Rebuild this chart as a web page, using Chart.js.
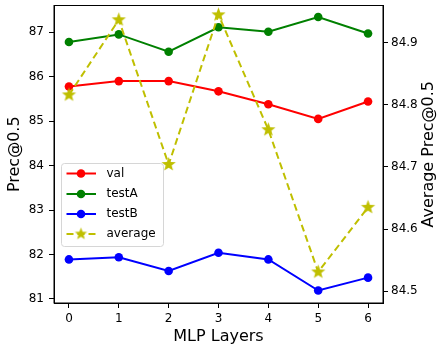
<!DOCTYPE html>
<html>
<head>
<meta charset="utf-8">
<script src="https://cdn.jsdelivr.net/npm/chart.js@4.4.0/dist/chart.umd.min.js"></script>
<style>
  body { margin: 0; background: #fff; }
</style>
</head>
<body>
<canvas id="myChart" width="440" height="346"></canvas>
<script>
var layers = [0, 1, 2, 3, 4, 5, 6];
var valData = [85.78, 85.90, 85.90, 85.67, 85.38, 85.05, 85.44];
var testAData = [86.78, 86.95, 86.56, 87.11, 87.01, 87.34, 86.97];
var testBData = [81.89, 81.94, 81.63, 82.04, 81.89, 81.19, 81.48];
var averageData = [84.816, 84.937, 84.704, 84.945, 84.760, 84.531, 84.635];
var leftTicks = [81, 82, 83, 84, 85, 86, 87];
var rightTicks = [84.5, 84.6, 84.7, 84.8, 84.9];

var FONT = "DejaVu Sans";

function pts(arr) {
  return layers.map(function (l, i) { return { x: l, y: arr[i] }; });
}

// filled 5-point star for the average series
function makeStar(r, color) {
  var c = document.createElement("canvas");
  var s = Math.ceil(r * 2) + 2;
  c.width = s; c.height = s;
  var g = c.getContext("2d");
  g.beginPath();
  for (var i = 0; i < 10; i++) {
    var rad = i % 2 === 0 ? r : r * 0.42;
    var a = -Math.PI / 2 + i * Math.PI / 5;
    var px = s / 2 + rad * Math.cos(a), py = s / 2 + rad * Math.sin(a);
    if (i === 0) g.moveTo(px, py); else g.lineTo(px, py);
  }
  g.closePath();
  g.fillStyle = color;
  g.fill();
  return c;
}
var star = makeStar(7.5, "#bfbf00");
var starSmall = makeStar(6.5, "#bfbf00");

var frameAndLegend = {
  id: "frameAndLegend",
  afterDraw: function (chart) {
    var ctx = chart.ctx, a = chart.chartArea;
    ctx.save();
    ctx.strokeStyle = "#000";
    ctx.lineWidth = 1;
    ctx.strokeRect(a.left, a.top, a.right - a.left, a.bottom - a.top);

    // right axis title, reading bottom to top
    ctx.save();
    ctx.translate(429, (a.top + a.bottom) / 2);
    ctx.rotate(-Math.PI / 2);
    ctx.fillStyle = "#000";
    ctx.font = "16px '" + FONT + "'";
    ctx.textAlign = "center";
    ctx.textBaseline = "middle";
    ctx.fillText("Average Prec@0.5", 0, 0);
    ctx.restore();

    // legend box
    var bx = 61.5, by = 163.5, bw = 102, bh = 83, r = 3;
    ctx.beginPath();
    ctx.moveTo(bx + r, by);
    ctx.arcTo(bx + bw, by, bx + bw, by + bh, r);
    ctx.arcTo(bx + bw, by + bh, bx, by + bh, r);
    ctx.arcTo(bx, by + bh, bx, by, r);
    ctx.arcTo(bx, by, bx + bw, by, r);
    ctx.closePath();
    ctx.fillStyle = "rgba(255,255,255,0.8)";
    ctx.fill();
    ctx.strokeStyle = "#d6d6d6";
    ctx.stroke();

    var items = [
      { label: "val", color: "#ff0000", y: 173.5 },
      { label: "testA", color: "#008000", y: 194 },
      { label: "testB", color: "#0000ff", y: 214 },
      { label: "average", color: "#bfbf00", y: 234, dash: true }
    ];
    items.forEach(function (it) {
      ctx.beginPath();
      ctx.strokeStyle = it.color;
      ctx.lineWidth = 2;
      ctx.setLineDash(it.dash ? [7, 4] : []);
      ctx.moveTo(66.5, it.y);
      ctx.lineTo(96, it.y);
      ctx.stroke();
      ctx.setLineDash([]);
      if (it.dash) {
        ctx.drawImage(starSmall, 81 - starSmall.width / 2, it.y - starSmall.height / 2);
      } else {
        ctx.beginPath();
        ctx.arc(81, it.y, 4.3, 0, Math.PI * 2);
        ctx.fillStyle = it.color;
        ctx.fill();
      }
      ctx.fillStyle = "#000";
      ctx.font = "12px '" + FONT + "'";
      ctx.textAlign = "left";
      ctx.textBaseline = "middle";
      ctx.fillText(it.label, 106.5, it.y);
    });
    ctx.restore();
  }
};

function setTicks(list) {
  return function (axis) {
    axis.ticks = list.map(function (v) { return { value: v }; });
  };
}

function fixWidth(w) {
  return function (s) {
    s.width = w;
    s.paddingTop = 0;
    s.paddingBottom = 0;
  };
}

var tickGrid = {
  display: true,
  drawOnChartArea: false,
  drawTicks: true,
  tickLength: 5,
  tickColor: "#000",
  tickWidth: 1
};

new Chart("myChart", {
  type: "line",
  data: {
    datasets: [
      {
        label: "average",
        data: pts(averageData),
        yAxisID: "y2",
        borderColor: "#bfbf00",
        backgroundColor: "#bfbf00",
        borderWidth: 2,
        borderDash: [7, 4],
        pointStyle: star,
        pointRadius: 7.5,
        tension: 0
      },
      {
        label: "testB",
        data: pts(testBData),
        yAxisID: "y",
        borderColor: "#0000ff",
        backgroundColor: "#0000ff",
        borderWidth: 2,
        pointRadius: 4.3,
        pointBorderWidth: 0,
        tension: 0
      },
      {
        label: "testA",
        data: pts(testAData),
        yAxisID: "y",
        borderColor: "#008000",
        backgroundColor: "#008000",
        borderWidth: 2,
        pointRadius: 4.3,
        pointBorderWidth: 0,
        tension: 0
      },
      {
        label: "val",
        data: pts(valData),
        yAxisID: "y",
        borderColor: "#ff0000",
        backgroundColor: "#ff0000",
        borderWidth: 2,
        pointRadius: 4.3,
        pointBorderWidth: 0,
        tension: 0
      }
    ]
  },
  options: {
    responsive: false,
    animation: false,
    devicePixelRatio: 1,
    layout: { autoPadding: false, padding: { top: 5.5, left: 0, right: 0, bottom: 0 } },
    plugins: {
      legend: { display: false },
      tooltip: { enabled: false }
    },
    scales: {
      x: {
        type: "linear",
        min: -0.3,
        max: 6.3,
        afterBuildTicks: setTicks(layers),
        afterFit: function (s) { s.height = 43; s.paddingLeft = 0; s.paddingRight = 0; },
        grid: tickGrid,
        border: { display: true, color: "#000", width: 1 },
        ticks: { color: "#000", padding: 4, maxRotation: 0, font: { family: FONT, size: 12 } },
        title: {
          display: true,
          text: "MLP Layers",
          color: "#000",
          font: { family: FONT, size: 16 },
          padding: { top: 0, bottom: 0 }
        }
      },
      y: {
        type: "linear",
        position: "left",
        min: 80.91,
        max: 87.60,
        afterBuildTicks: setTicks(leftTicks),
        afterFit: fixWidth(54),
        grid: tickGrid,
        border: { display: true, color: "#000", width: 1 },
        ticks: { color: "#000", padding: 5, font: { family: FONT, size: 12 } },
        title: {
          display: true,
          text: "Prec@0.5",
          color: "#000",
          font: { family: FONT, size: 16 },
          padding: { top: 5, bottom: 0 }
        }
      },
      y2: {
        type: "linear",
        position: "right",
        min: 84.481,
        max: 84.960,
        afterBuildTicks: setTicks(rightTicks),
        afterFit: fixWidth(57),
        grid: tickGrid,
        border: { display: true, color: "#000", width: 1 },
        ticks: {
          color: "#000",
          padding: 3,
          font: { family: FONT, size: 12 },
          callback: function (v) { return v.toFixed(1); }
        }
      }
    }
  },
  plugins: [frameAndLegend]
});
</script>
</body>
</html>
